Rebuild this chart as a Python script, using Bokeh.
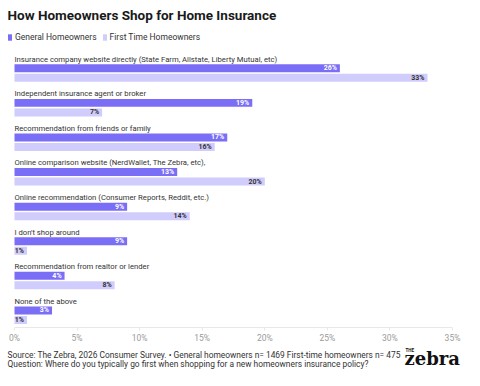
from bokeh.plotting import figure
from bokeh.layouts import column
from bokeh.models import (ColumnDataSource, Range1d, FixedTicker, PrintfTickFormatter,
                          Label, Legend, LegendItem)
from bokeh.core.properties import value
from bokeh.embed import file_html
from bokeh.resources import INLINE

categories = [
    "Insurance company website directly (State Farm, Allstate, Liberty Mutual, etc)",
    "Independent insurance agent or broker",
    "Recommendation from friends or family",
    "Online comparison website (NerdWallet, The Zebra, etc),",
    "Online recommendation (Consumer Reports, Reddit, etc.)",
    "I don't shop around",
    "Recommendation from realtor or lender",
    "None of the above",
]
general = [26, 19, 17, 13, 9, 9, 4, 3]
first_time = [33, 7, 16, 20, 14, 1, 8, 1]
x_ticks = [0, 5, 10, 15, 20, 25, 30, 35]

C_GEN = "#7B6EF6"
C_FIRST = "#D0CCFB"
FONT = "Roboto"

W = 464
H_MAIN = 345
AXIS_H = 16
FRAME_H = H_MAIN - AXIS_H    # 329
H_FOOT = 25

X0 = 14.0                     # canvas x of 0%
PX_PER = (452.0 - X0) / 35.0  # px per percentage point
S = 34.8                      # px per category row
TOP = -59.0 / S               # y value at top of frame
BOTTOM = TOP + FRAME_H / S

def yv(canvas_y):
    return TOP + canvas_y / S

def xv(canvas_x):
    return (canvas_x - X0) / PX_PER

idx = list(range(len(categories)))
src_gen = ColumnDataSource(dict(
    y=[i + 0.265 for i in idx], v=general, t=[f"{v}%" for v in general]))
src_first = ColumnDataSource(dict(
    y=[i + 0.54 for i in idx], v=first_time, t=[f"{v}%" for v in first_time]))
src_cat = ColumnDataSource(dict(y=idx, t=categories))

p = figure(width=W, height=H_MAIN, output_backend="svg", toolbar_location=None,
           x_range=Range1d(xv(0), xv(W)), y_range=Range1d(BOTTOM, TOP),
           y_axis_location=None, min_border_left=0, min_border_right=0,
           min_border_top=0, min_border_bottom=AXIS_H)
p.outline_line_color = None
p.grid.visible = False
p.background_fill_color = "white"
p.border_fill_color = "white"

bh = 8 / S
r1 = p.hbar(y="y", right="v", left=0, height=bh, source=src_gen,
            fill_color=C_GEN, line_color=None)
r2 = p.hbar(y="y", right="v", left=0, height=bh, source=src_first,
            fill_color=C_FIRST, line_color=None)

p.text(x=0, y="y", text="t", source=src_cat, text_font=value(FONT),
       text_font_size="7.7px", text_color="#333333", text_baseline="middle",
       text_align="left")
p.text(x="v", y="y", text="t", source=src_gen, text_font=value(FONT),
       text_font_size="7px", text_font_style="bold", text_color="white",
       text_baseline="middle", text_align="right", x_offset=-3)
p.text(x="v", y="y", text="t", source=src_first, text_font=value(FONT),
       text_font_size="7px", text_font_style="bold", text_color="#333333",
       text_baseline="middle", text_align="right", x_offset=-3)

ax = p.xaxis[0]
ax.ticker = FixedTicker(ticks=x_ticks)
ax.bounds = (0, 35)
ax.formatter = PrintfTickFormatter(format="%d%%")
ax.axis_line_color = "#E8E8E8"
ax.major_tick_line_color = "#E8E8E8"
ax.major_tick_in = 0
ax.major_tick_out = 3
ax.minor_tick_line_color = None
ax.major_label_text_font = FONT
ax.major_label_text_font_size = "8.5px"
ax.major_label_text_color = "#9A9A9A"
ax.major_label_standoff = 2

# title
p.add_layout(Label(x=xv(7), y=yv(14.5), text="How Homeowners Shop for Home Insurance",
                   text_font=FONT, text_font_size="13.5px", text_font_style="bold",
                   text_color="#1a1a1a", text_baseline="middle"))

# legend
leg = Legend(items=[LegendItem(label="General Homeowners", renderers=[r1]),
                    LegendItem(label="First Time Homeowners", renderers=[r2])],
             orientation="horizontal", location=(7, FRAME_H - 44),
             glyph_width=5, glyph_height=8, label_text_font=FONT,
             label_text_font_size="8.5px", label_text_color="#333333",
             label_standoff=3, spacing=5, padding=0, margin=0,
             border_line_color=None, background_fill_alpha=0,
             label_height=10)
p.add_layout(leg, "center")

# footer figure
f = figure(width=W, height=H_FOOT, output_backend="svg", toolbar_location=None,
           x_range=Range1d(0, W), y_range=Range1d(H_FOOT, 0),
           x_axis_location=None, y_axis_location=None,
           min_border_left=0, min_border_right=0, min_border_top=0, min_border_bottom=0)
f.outline_line_color = None
f.grid.visible = False
f.add_layout(Label(x=7, y=9,
                   text="Source: The Zebra, 2026 Consumer Survey. \u2022 General homeowners n= 1469 First-time homeowners n= 475",
                   text_font=FONT, text_font_size="8.4px", text_color="#333333",
                   text_baseline="middle"))
f.add_layout(Label(x=7, y=18.5,
                   text="Question: Where do you typically go first when shopping for a new homeowners insurance policy?",
                   text_font=FONT, text_font_size="8.4px", text_color="#333333",
                   text_baseline="middle"))
f.add_layout(Label(x=404, y=12.5, text="zebra", text_font="DejaVu Serif",
                   text_font_size="18px", text_font_style="bold", text_color="#111111",
                   text_baseline="middle"))
f.add_layout(Label(x=405, y=5, text="THE", text_font=FONT,
                   text_font_size="4.5px", text_font_style="bold", text_color="#111111",
                   text_baseline="middle"))

layout = column(p, f, spacing=0)
open("out.html", "w").write(file_html(layout, INLINE))
